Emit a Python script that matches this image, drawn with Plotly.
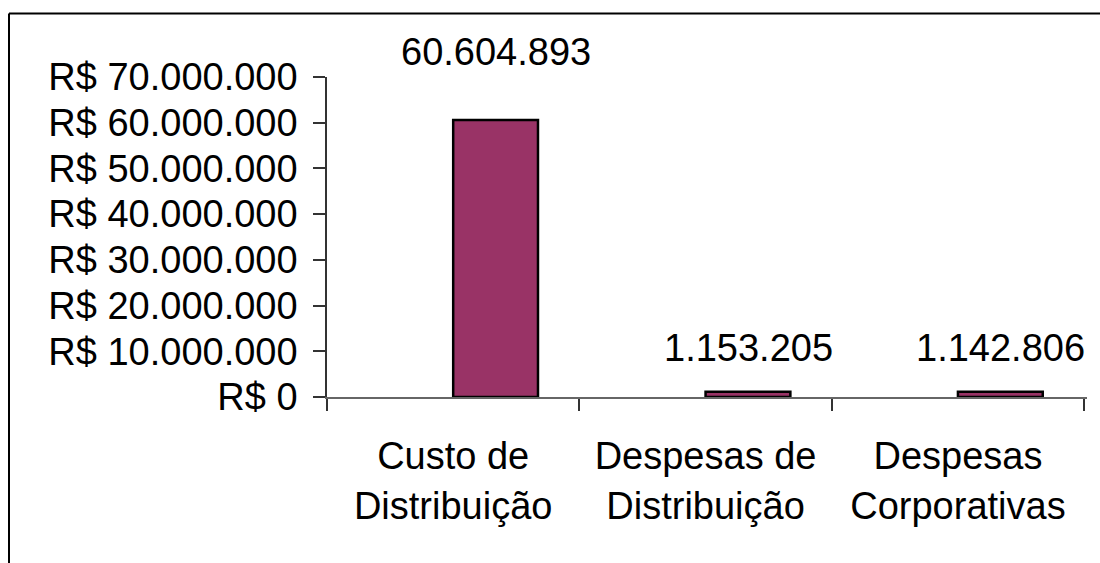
import plotly.graph_objects as go

# Cost breakdown (R$)
categories = ["Custo de<br>Distribuição", "Despesas de<br>Distribuição", "Despesas<br>Corporativas"]
values = [60604893, 1153205, 1142806]
value_labels = ["60.604.893", "1.153.205", "1.142.806"]
tick_values = [0, 10000000, 20000000, 30000000, 40000000, 50000000, 60000000, 70000000]
tick_labels = ["R$ 0", "R$ 10.000.000", "R$ 20.000.000", "R$ 30.000.000",
               "R$ 40.000.000", "R$ 50.000.000", "R$ 60.000.000", "R$ 70.000.000"]

FONT = "Liberation Sans, Arial, sans-serif"
FS = 38
BAR_W = 0.336
label_shift = [53, 29, 29]

fig = go.Figure()
fig.add_trace(go.Bar(
    x=categories, y=values,
    width=BAR_W, offset=0,
    marker=dict(color="#993366", line=dict(color="black", width=2.5)),
    hoverinfo="skip",
))

for c, v, t, s in zip(categories, values, value_labels, label_shift):
    fig.add_annotation(
        x=c, y=v, text=t, showarrow=False,
        xshift=BAR_W * 760 / 3 / 2, yshift=s - 8,
        yanchor="bottom", xanchor="center",
        font=dict(family=FONT, size=FS, color="black"),
    )

# outer chart frame: only the top and left edges fall inside the window
frame_left = (9 - 327) / 760
frame_top = (396.7 - 13.5) / 319.7
fig.add_shape(type="line", xref="paper", yref="paper",
              x0=frame_left, x1=1.05, y0=frame_top, y1=frame_top,
              line=dict(color="black", width=2), layer="above")
fig.add_shape(type="line", xref="paper", yref="paper",
              x0=frame_left, x1=frame_left, y0=frame_top, y1=-0.6,
              line=dict(color="black", width=2), layer="above")

fig.update_layout(
    width=1100, height=563,
    margin=dict(l=327, r=13, t=77, b=166, pad=0),
    paper_bgcolor="white", plot_bgcolor="white",
    showlegend=False,
    font=dict(family=FONT, size=FS, color="black"),
    xaxis=dict(
        type="category", showgrid=False, zeroline=False,
        showline=True, linecolor="#666666", linewidth=1.5,
        ticks="outside", tickson="boundaries", ticklen=12, tickcolor="#333333", tickwidth=1.5,
        tickfont=dict(family=FONT, size=FS, color="black"),
        ticklabelstandoff=25,
    ),
    yaxis=dict(
        range=[0, 70000000], tickvals=tick_values, ticktext=tick_labels,
        showgrid=False, zeroline=False,
        showline=True, linecolor="#333333", linewidth=1.5,
        ticks="outside", ticklen=12, tickcolor="#333333", tickwidth=1.5,
        tickfont=dict(family=FONT, size=FS, color="black"),
        ticklabelstandoff=8,
    ),
)

fig.write_html("out.html")
